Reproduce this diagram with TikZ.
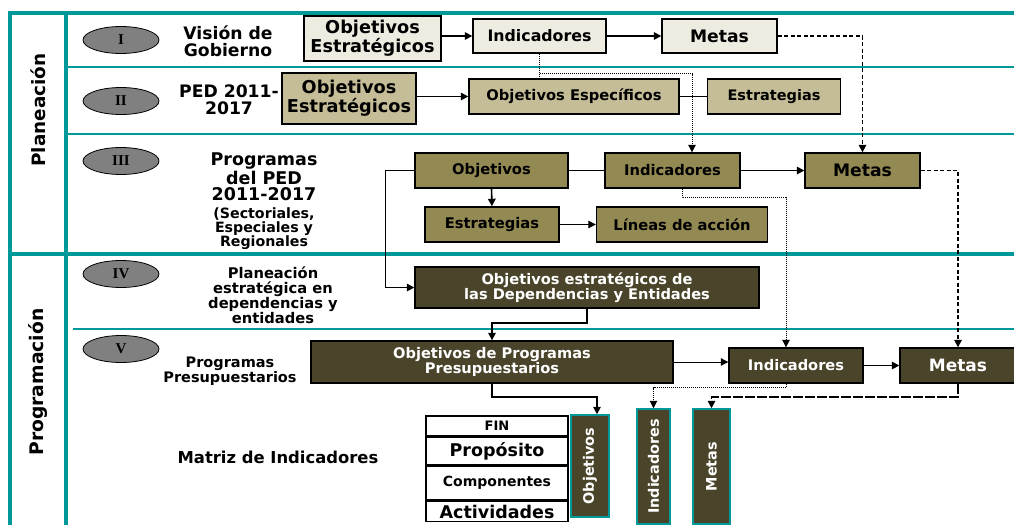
\documentclass[tikz,border=0pt]{standalone}
\usepackage{fontspec}
\setmainfont{DejaVu Sans}
\newfontfamily\romanfont{Liberation Serif}
\usetikzlibrary{arrows.meta, positioning, shapes.geometric}

\definecolor{bandteal}{HTML}{009999}
\definecolor{paleI}{HTML}{EEECE1}
\definecolor{tanII}{HTML}{C4BD97}
\definecolor{oliveIII}{HTML}{938953}
\definecolor{darkIV}{HTML}{4A452A}
\definecolor{stepgrey}{HTML}{808080}

\newcommand{\fsz}[2]{\fontsize{#1}{#2}\selectfont}

\begin{document}
\begin{tikzpicture}[x=1pt, y=-1pt,
  every node/.style={font=\bfseries, inner sep=0pt},
  band/.style={draw=bandteal, line width=3pt},
  box/.style={draw=black, line width=1.4pt, align=center},
  boxI/.style={box, fill=paleI},
  boxII/.style={box, fill=tanII},
  boxIII/.style={box, fill=oliveIII, font=\bfseries\fsz{14.7}{15}},
  boxIV/.style={box, fill=darkIV, text=white, font=\bfseries\fsz{14.6}{14}},
  vbox/.style={draw=bandteal, line width=1.5pt, fill=darkIV, text=white, rotate=90, font=\bfseries\fsz{14.4}{14}},
  cell/.style={draw=black, line width=1.5pt, fill=white, minimum width=142pt},
  roman/.style={ellipse, draw=black, line width=0.8pt, fill=stepgrey, minimum width=76pt, minimum height=27pt, font=\romanfont\bfseries\fsz{15}{14}},
  lbl/.style={align=center},
  line/.style={line width=1.6pt},
  arr/.style={line width=1.6pt, -{Triangle[length=7.5pt,width=7.5pt]}},
  arrthin/.style={line width=1pt, -{Triangle[length=7.5pt,width=7.5pt]}},
  dashline/.style={line width=1.6pt, dash pattern=on 4pt off 2.5pt},
  dashlong/.style={line width=1.6pt, dash pattern=on 10pt off 2pt},
  dotline/.style={line width=1pt, dash pattern=on 1pt off 1pt},
  tip/.style={-{Triangle[length=7.5pt,width=7.5pt]}}]

  \useasboundingbox (0,0) rectangle (1014,525);

  % Frame
  \draw[band, line width=3.5pt] (8,13) -- (1014,13);
  \draw[band, line width=4pt] (10,11.5) -- (10,525);
  \draw[band, line width=4pt] (66,11.5) -- (66,525);
  \draw[band, line width=2.7pt] (66,67) -- (1014,67);
  \draw[band, line width=2.7pt] (66,134) -- (1014,134);
  \draw[band, line width=4pt] (10,254) -- (1014,254);
  \draw[band, line width=2.5pt] (73,329) -- (1014,329);

  % Section labels
  \node[rotate=90, font=\bfseries\fsz{18.4}{20}] (plan) at (38,110) {Planeación};
  \node[rotate=90, font=\bfseries\fsz{18.7}{20}] (progr) at (38,382) {Programación};

  % Steps
  \node[roman] (r1) at (121,40) {I};
  \node[roman] (r2) at (121,101) {II};
  \node[roman] (r3) at (121,161) {III};
  \node[roman] (r4) at (121,274) {IV};
  \node[roman] (r5) at (121,349) {V};

  % Row labels
  \node[lbl, font=\bfseries\fsz{17.2}{17}] (vision) at (228,41) {Visión de\\Gobierno};
  \node[lbl, font=\bfseries\fsz{17.2}{17}] (ped) at (229,100) {PED 2011-\\2017};
  \node[lbl, font=\bfseries\fsz{17.5}{16.5}] (pedA) at (264,177) {Programas\\del PED\\2011-2017};
  \node[lbl, font=\bfseries\fsz{14.2}{14}] (pedB) at (264,229) {(Sectoriales,\\Especiales y\\Regionales};
  \node[lbl, font=\bfseries\fsz{14.7}{15}] (plest) at (273,295) {Planeación\\estratégica en\\dependencias y\\entidades};
  \node[lbl, font=\bfseries\fsz{14.5}{13.5}] (pp) at (230,371) {Programas\\Presupuestarios};
  \node[font=\bfseries\fsz{16.4}{16}] (matriz) at (278,457) {Matriz de Indicadores};

  % Row I boxes
  \node[boxI, minimum width=137pt, minimum height=45pt, font=\bfseries\fsz{17.7}{18.7}] (objI) at (372.5,38.5) {Objetivos\\Estratégicos};
  \node[boxI, minimum width=133pt, minimum height=34pt, font=\bfseries\fsz{15.8}{16}] (indI) at (539.5,36) {Indicadores};
  \node[boxI, minimum width=115pt, minimum height=34pt, font=\bfseries\fsz{17.2}{17}] (metI) at (719.5,36) {Metas};

  % Row II boxes
  \node[boxII, minimum width=134pt, minimum height=51pt, font=\bfseries\fsz{17.7}{18.7}] (objII) at (349,98.5) {Objetivos\\Estratégicos};
  \node[boxII, minimum width=210pt, minimum height=35pt, font=\bfseries\fsz{14.7}{15}] (espII) at (574,96.5) {Objetivos Específicos};
  \node[boxII, minimum width=133pt, minimum height=35pt, font=\bfseries\fsz{14.5}{15}] (estII) at (774,96.5) {Estrategias};

  % Row III boxes
  \node[boxIII, minimum width=153pt, minimum height=35pt] (objIII) at (491.5,170.5) {Objetivos};
  \node[boxIII, minimum width=135pt, minimum height=35pt] (indIII) at (672.5,170.5) {Indicadores};
  \node[boxIII, minimum width=115pt, minimum height=35pt, font=\bfseries\fsz{17.2}{17}] (metIII) at (862.5,170.5) {Metas};
  \node[boxIII, minimum width=134pt, minimum height=35pt] (estIII) at (492,224.5) {Estrategias};
  \node[boxIII, minimum width=171pt, minimum height=35pt] (linIII) at (682,224.5) {Líneas de acción};

  % Row IV and V boxes
  \node[boxIV, minimum width=344pt, minimum height=41pt] (depIV) at (587,287.5) {Objetivos estratégicos de\\las Dependencias y Entidades};
  \node[boxIV, minimum width=362pt, minimum height=42pt, font=\bfseries\fsz{14.6}{13.5}] (progV) at (492,362) {Objetivos de Programas\\Presupuestarios};
  \node[boxIV, minimum width=134pt, minimum height=35pt] (indV) at (796,365.5) {Indicadores};
  \node[boxIV, minimum width=116pt, minimum height=35pt, font=\bfseries\fsz{17}{17}] (metV) at (958,365.5) {Metas};

  % Matrix
  \node[cell, minimum height=20pt, font=\bfseries\fsz{13}{13}] (fin) at (497,426) {FIN};
  \node[cell, minimum height=27pt, font=\bfseries\fsz{17.5}{17}, below=0pt of fin] (prop) {Propósito};
  \node[cell, minimum height=34pt, font=\bfseries\fsz{14}{14}, below=0pt of prop] (comp) {Componentes};
  \node[cell, minimum height=20pt, font=\bfseries\fsz{17.5}{17}, below=0pt of comp] (act) {Actividades};
  \node[vbox, minimum width=102pt, minimum height=38pt] (vobj) at (590,466) {Objetivos};
  \node[vbox, minimum width=115pt, minimum height=33pt] (vind) at (653.5,466.5) {Indicadores};
  \node[vbox, minimum width=115pt, minimum height=37pt] (vmet) at (711.5,466.5) {Metas};

  % Connections row I and II
  \draw[arr] (objI.east |- indI.west) -- (indI.west);
  \draw[arr] (indI.east) -- (metI.west);
  \draw[dashline, tip] (metI.east) -| (metIII.north);
  \draw[dotline] (indI.south) -- (indI.south |- espII.north);
  \path (indI.south) ++(0,20) coordinate (split);
  \draw[dotline, tip] (split) -| ([xshift=19.5pt]indIII.north);
  \draw[arr] (objII.east |- espII.west) -- (espII.west);
  \draw[line] (espII.east) -- (estII.west);

  % Connections row III
  \draw[line] (objIII.east) -- (indIII.west);
  \draw[arr] (indIII.east) -- (metIII.west);
  \draw[arr] (objIII.south) -- (estIII.north);
  \draw[arrthin] (estIII.east) -- (linIII.west);
  \draw[arr] (objIII.west) -- ++(-29,0) |- (depIV.west);
  \draw[dashline, tip] (metIII.east) -| (metV.north);
  \draw[dotline, tip] ([xshift=9.5pt]indIII.south) -- ++(0,9) -| ([xshift=-10pt]indV.north);

  % Connections row IV and V
  \draw[arr] (depIV.south) -- ++(0,14) -| (progV.north);
  \draw[arrthin] (progV.east) -- (progV.east -| indV.west);
  \draw[arr] (indV.east) -- (metV.west);
  \draw[arr] (progV.south) -- ++(0,13) -| ([xshift=7pt]vobj.east);
  \draw[dotline, tip] ([xshift=-10pt]indV.south) -- ++(0,4) -| (vind.east);
  \draw[dashlong, tip] (metV.south) -- ++(0,13) -| (vmet.east);
\end{tikzpicture}
\end{document}
